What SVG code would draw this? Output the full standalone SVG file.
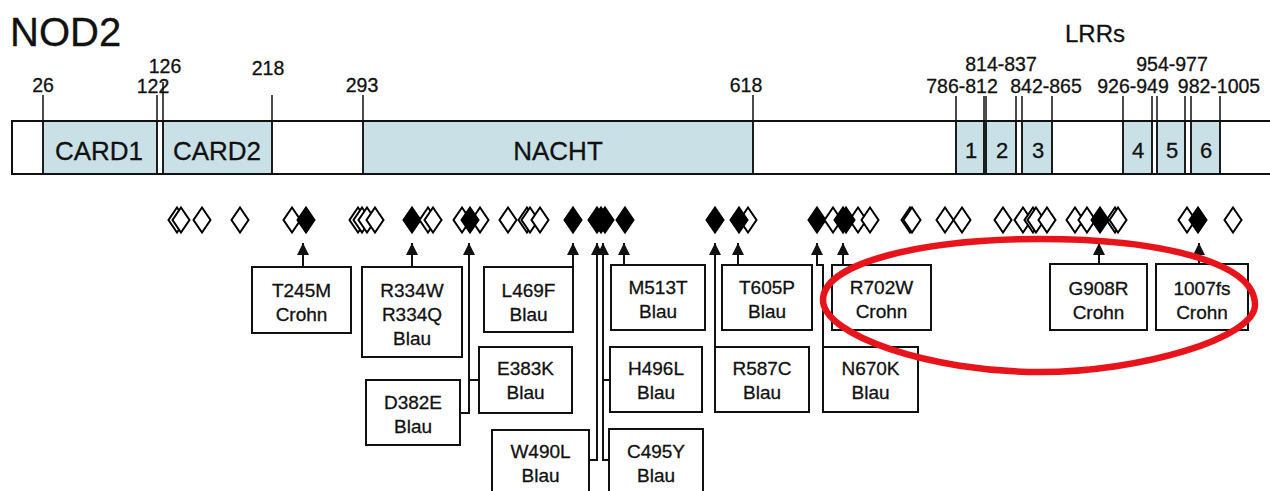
<svg xmlns="http://www.w3.org/2000/svg" width="1270" height="491" viewBox="0 0 1270 491">
<style>
text{font-family:"Liberation Sans",Arial,sans-serif;fill:#111;stroke:#111;stroke-width:0.3}
.num{font-size:19.5px;text-anchor:middle}
.dom{font-size:26px;text-anchor:middle}
.lrr{font-size:22px;text-anchor:middle}
.lbl{font-size:19px;text-anchor:middle}
.box{fill:#fff;stroke:#111;stroke-width:2}
.domain{fill:#c9e1e6;stroke:#111;stroke-width:1.5}
.tick{stroke:#111;stroke-width:1.5;fill:none}
.conn{stroke:#111;stroke-width:2;fill:none}
.o{fill:#fff;stroke:#000;stroke-width:2}
.f{fill:#000;stroke:#000;stroke-width:2}
</style>
<defs>
<path id="d" d="M0,-12.5 L8.5,0 L0,12.5 L-8.5,0 Z"/>
<marker id="ah" viewBox="0 0 12 12" refX="12" refY="6" markerWidth="12" markerHeight="12" markerUnits="userSpaceOnUse" orient="auto">
<path d="M0,0 L12,6 L0,12 Z" fill="#111"/>
</marker>
</defs>
<rect width="1270" height="491" fill="#fff"/>
<text x="10" y="46" style="font-size:40px">NOD2</text>
<text x="1095" y="42" style="font-size:24px;text-anchor:middle">LRRs</text>

<g id="protein">
<rect x="12" y="121" width="1280" height="53" fill="#fff" stroke="#111" stroke-width="2"/>
<rect class="domain" x="43" y="121" width="114" height="53"/>
<rect class="domain" x="163" y="121" width="109" height="53"/>
<rect class="domain" x="363" y="121" width="390" height="53"/>
<rect class="domain" x="956" y="121" width="28" height="53"/>
<rect class="domain" x="986" y="121" width="30" height="53"/>
<rect class="domain" x="1022" y="121" width="30" height="53"/>
<rect class="domain" x="1123" y="121" width="29" height="53"/>
<rect class="domain" x="1157" y="121" width="28" height="53"/>
<rect class="domain" x="1191" y="121" width="29" height="53"/>
<line x1="12" y1="121" x2="1270" y2="121" stroke="#111" stroke-width="2"/>
<line x1="12" y1="174" x2="1270" y2="174" stroke="#111" stroke-width="2"/>
<path class="tick" d="M43,95V174 M157,95V174 M163,82V174 M272,95V174 M363,95V174 M753,95V174 M956,96V174 M984,96V174 M986,96V174 M1016,96V174 M1022,96V174 M1052,96V174 M1123,96V174 M1152,96V174 M1157,96V174 M1185,96V174 M1191,96V174 M1220,96V174"/>
<text class="dom" x="99" y="160">CARD1</text>
<text class="dom" x="217" y="160">CARD2</text>
<text class="dom" x="558" y="160">NACHT</text>
<text class="lrr" x="971" y="158">1</text>
<text class="lrr" x="1002" y="158">2</text>
<text class="lrr" x="1038" y="158">3</text>
<text class="lrr" x="1138" y="158">4</text>
<text class="lrr" x="1172" y="158">5</text>
<text class="lrr" x="1206" y="158">6</text>
<text class="num" x="43" y="92">26</text>
<text class="num" x="153" y="93">122</text>
<text class="num" x="165" y="73">126</text>
<text class="num" x="268" y="75">218</text>
<text class="num" x="362" y="92">293</text>
<text class="num" x="746" y="92">618</text>
<text class="num" x="1001" y="71">814-837</text>
<text class="num" x="962" y="93">786-812</text>
<text class="num" x="1046" y="93">842-865</text>
<text class="num" x="1133" y="93">926-949</text>
<text class="num" x="1172" y="71">954-977</text>
<text class="num" x="1219" y="93">982-1005</text>
</g>

<g id="variants" transform="translate(0,220)">
<use href="#d" class="o" x="177"/><use href="#d" class="o" x="181"/><use href="#d" class="o" x="202"/><use href="#d" class="o" x="240"/><use href="#d" class="o" x="292"/>
<use href="#d" class="f" x="306"/>
<use href="#d" class="o" x="358"/><use href="#d" class="o" x="362"/><use href="#d" class="o" x="367"/><use href="#d" class="o" x="375"/>
<use href="#d" class="f" x="412"/>
<use href="#d" class="o" x="428"/><use href="#d" class="o" x="433"/><use href="#d" class="o" x="462"/>
<use href="#d" class="o" x="480"/>
<use href="#d" class="f" x="470"/>
<use href="#d" class="o" x="508"/><use href="#d" class="o" x="527"/><use href="#d" class="o" x="530"/><use href="#d" class="o" x="540"/>
<use href="#d" class="f" x="573"/><use href="#d" class="f" x="597"/><use href="#d" class="f" x="601"/><use href="#d" class="f" x="605"/><use href="#d" class="f" x="625"/><use href="#d" class="f" x="715"/>
<use href="#d" class="o" x="748"/>
<use href="#d" class="f" x="739"/>
<use href="#d" class="f" x="817"/>
<use href="#d" class="o" x="833"/>
<use href="#d" class="o" x="858"/><use href="#d" class="o" x="870"/>
<use href="#d" class="f" x="843"/><use href="#d" class="f" x="846"/>
<use href="#d" class="o" x="910"/><use href="#d" class="o" x="912"/><use href="#d" class="o" x="945"/><use href="#d" class="o" x="962"/>
<use href="#d" class="o" x="1003"/><use href="#d" class="o" x="1023"/><use href="#d" class="o" x="1033"/><use href="#d" class="o" x="1036"/><use href="#d" class="o" x="1047"/>
<use href="#d" class="o" x="1075"/><use href="#d" class="o" x="1087"/>
<use href="#d" class="o" x="1115"/><use href="#d" class="o" x="1118"/>
<use href="#d" class="f" x="1100"/>
<use href="#d" class="o" x="1187"/>
<use href="#d" class="f" x="1198"/>
<use href="#d" class="o" x="1233"/>
</g>

<g id="connectors">
<path class="conn" marker-end="url(#ah)" d="M303,267 V243"/>
<path class="conn" marker-end="url(#ah)" d="M412,267 V243"/>
<path class="conn" marker-end="url(#ah)" d="M460,413 H469 V243"/>
<path class="conn" d="M469,380 H479"/>
<path class="conn" marker-end="url(#ah)" d="M573,267 V243"/>
<path class="conn" marker-end="url(#ah)" d="M589,460 H597 V243"/>
<path class="conn" marker-end="url(#ah)" d="M609,460 H603 V243"/>
<path class="conn" d="M603,380 H610"/>
<path class="conn" marker-end="url(#ah)" d="M624,265 V243"/>
<path class="conn" marker-end="url(#ah)" d="M715,347 V243"/>
<path class="conn" marker-end="url(#ah)" d="M738,265 V243"/>
<path class="conn" marker-end="url(#ah)" d="M823,347 V265 H817 V243"/>
<path class="conn" marker-end="url(#ah)" d="M843,265 V243"/>
<path class="conn" marker-end="url(#ah)" d="M1099,264 V243"/>
<path class="conn" marker-end="url(#ah)" d="M1199,264 V243"/>
</g>

<g id="T245M"><rect class="box" x="252" y="267" width="99" height="66"/><text class="lbl" x="301.5" y="297">T245M</text><text class="lbl" x="301.5" y="321">Crohn</text></g>
<g id="R334W"><rect class="box" x="362" y="267" width="100" height="90"/><text class="lbl" x="412" y="297">R334W</text><text class="lbl" x="412" y="321">R334Q</text><text class="lbl" x="412" y="345">Blau</text></g>
<g id="D382E"><rect class="box" x="366" y="380" width="94" height="65"/><text class="lbl" x="413" y="409">D382E</text><text class="lbl" x="413" y="433">Blau</text></g>
<g id="L469F"><rect class="box" x="484" y="267" width="89" height="65"/><text class="lbl" x="528.5" y="297">L469F</text><text class="lbl" x="528.5" y="321">Blau</text></g>
<g id="E383K"><rect class="box" x="479" y="347" width="93" height="66"/><text class="lbl" x="525.5" y="375">E383K</text><text class="lbl" x="525.5" y="399">Blau</text></g>
<g id="W490L"><rect class="box" x="492" y="430" width="97" height="75"/><text class="lbl" x="540.5" y="458">W490L</text><text class="lbl" x="540.5" y="482">Blau</text></g>
<g id="M513T"><rect class="box" x="611" y="265" width="94" height="65"/><text class="lbl" x="658" y="294">M513T</text><text class="lbl" x="658" y="318">Blau</text></g>
<g id="H496L"><rect class="box" x="610" y="347" width="92" height="65"/><text class="lbl" x="656" y="375">H496L</text><text class="lbl" x="656" y="399">Blau</text></g>
<g id="C495Y"><rect class="box" x="609" y="429" width="94" height="75"/><text class="lbl" x="656" y="458">C495Y</text><text class="lbl" x="656" y="482">Blau</text></g>
<g id="T605P"><rect class="box" x="722" y="265" width="90" height="65"/><text class="lbl" x="767" y="294">T605P</text><text class="lbl" x="767" y="318">Blau</text></g>
<g id="R587C"><rect class="box" x="715" y="347" width="94" height="65"/><text class="lbl" x="762" y="375">R587C</text><text class="lbl" x="762" y="399">Blau</text></g>
<g id="R702W"><rect class="box" x="832" y="265" width="99" height="65"/><text class="lbl" x="881.5" y="294">R702W</text><text class="lbl" x="881.5" y="318">Crohn</text></g>
<g id="N670K"><rect class="box" x="823" y="347" width="95" height="65"/><text class="lbl" x="870.5" y="375">N670K</text><text class="lbl" x="870.5" y="399">Blau</text></g>
<g id="G908R"><rect class="box" x="1050" y="264" width="97" height="66"/><text class="lbl" x="1098.5" y="295">G908R</text><text class="lbl" x="1098.5" y="319">Crohn</text></g>
<g id="fs1007"><rect class="box" x="1156" y="264" width="92" height="66"/><text class="lbl" x="1202" y="295">1007fs</text><text class="lbl" x="1202" y="319">Crohn</text></g>

<path id="highlight" d="M823,300 C823,262 925,239 1040,239 C1160,239 1255,262 1255,305 C1255,338 1140,372 1040,372 C930,372 823,335 823,300 Z" fill="none" stroke="#e8141c" stroke-width="6.5"/>
</svg>
